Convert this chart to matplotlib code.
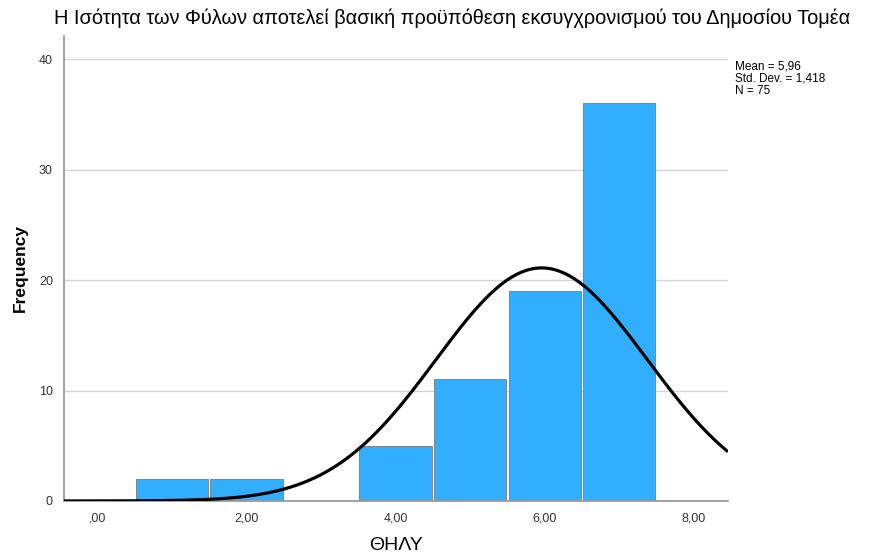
import numpy as np
import matplotlib.pyplot as plt

# histogram data
bins = [1, 2, 3, 4, 5, 6, 7]
counts = [2, 2, 0, 5, 11, 19, 36]
mean, sd, n = 5.96, 1.418, 75
xticks = [0, 2, 4, 6, 8]
xticklabels = [',00', '2,00', '4,00', '6,00', '8,00']
yticks = [0, 10, 20, 30, 40]

plt.rcParams['font.family'] = ['Liberation Sans', 'DejaVu Sans']

fig = plt.figure(figsize=(8.84, 5.58), dpi=100, facecolor='w')
ax = fig.add_axes([0.0724, 0.1022, 0.7511, 0.8333])

for y in yticks[1:]:
    ax.axhline(y, color='#d4d4d4', lw=1, zorder=0)

ax.bar(bins, counts, width=0.97, color='#31aeff', edgecolor='#7a7a7a', linewidth=0.6, zorder=2)

x = np.linspace(-0.45, 8.46, 400)
y = n * 1.0 / (sd * np.sqrt(2 * np.pi)) * np.exp(-0.5 * ((x - mean) / sd) ** 2)
ax.plot(x, y, c='k', lw=2.3, zorder=3, solid_capstyle='butt')

ax.set_xlim(-0.45, 8.46)
ax.set_ylim(0, 42.1)
ax.set_xticks(xticks)
ax.set_xticklabels(xticklabels)
ax.set_yticks(yticks)
ax.tick_params(length=0, labelsize=9, colors='#333333', pad=8)
for s in ['top', 'right']:
    ax.spines[s].set_visible(False)
for s in ['left', 'bottom']:
    ax.spines[s].set_color('#9a9a9a')
    ax.spines[s].set_linewidth(1.3)

ax.set_ylabel('Frequency', fontsize=12.5, fontweight='bold', labelpad=8)
ax.set_xlabel('ΘΗΛΥ', fontsize=14, labelpad=9)
fig.text(0.512, 0.967, 'Η Ισότητα των Φύλων αποτελεί βασική προϋπόθεση εκσυγχρονισμού του Δημοσίου Τομέα',
         ha='center', va='center', fontsize=14.4)
fig.text(0.831, 0.892, 'Mean = 5,96\nStd. Dev. = 1,418\nN = 75', ha='left', va='top',
         fontsize=8.5, linespacing=1.05)

fig.savefig('out.png', dpi=100)
